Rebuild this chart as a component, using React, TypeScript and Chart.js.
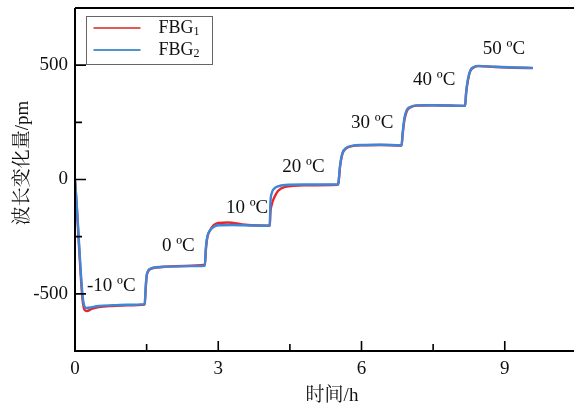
import React, { useEffect, useRef } from "react";
import { Chart, registerables } from "chart.js";

Chart.register(...registerables);

// FBG1 (red) time [h] and wavelength shift [pm]
const timeFBG1 = [0, 0.04, 0.08, 0.12, 0.16, 0.2, 0.25, 0.35, 0.5, 0.8, 1.1, 1.46, 1.48, 1.5, 1.53, 1.58, 1.7, 1.9, 2.3, 2.72, 2.74, 2.77, 2.82, 2.9, 3.0, 3.2, 3.5, 3.7, 4.08, 4.09, 4.12, 4.17, 4.25, 4.4, 4.8, 5.5, 5.52, 5.55, 5.6, 5.68, 5.8, 6.0, 6.4, 6.84, 6.86, 6.9, 6.95, 7.03, 7.15, 7.5, 8.17, 8.19, 8.23, 8.28, 8.35, 8.45, 8.8, 9.2, 9.59];
const shiftFBG1 = [0, -130, -280, -420, -530, -570, -575, -566, -558, -553, -550, -547, -480, -425, -402, -391, -385, -381, -378, -373, -310, -255, -225, -200, -190, -188, -196, -200, -202, -150, -110, -80, -50, -32, -25, -23, -12, 55, 112, 136, 146, 150, 151, 149, 195, 262, 300, 316, 323, 325, 322, 375, 435, 475, 490, 496, 492, 489, 487];

// FBG2 (blue)
const timeFBG2 = [0, 0.04, 0.08, 0.12, 0.16, 0.2, 0.25, 0.35, 0.5, 0.8, 1.1, 1.46, 1.48, 1.5, 1.53, 1.58, 1.7, 1.9, 2.3, 2.72, 2.74, 2.77, 2.82, 2.9, 3.0, 3.3, 3.7, 4.08, 4.09, 4.12, 4.17, 4.25, 4.4, 4.8, 5.5, 5.52, 5.55, 5.6, 5.68, 5.8, 6.0, 6.4, 6.84, 6.86, 6.9, 6.95, 7.03, 7.15, 7.5, 8.17, 8.19, 8.23, 8.28, 8.35, 8.45, 8.8, 9.2, 9.59];
const shiftFBG2 = [0, -120, -260, -400, -510, -555, -562, -558, -553, -550, -548, -545, -470, -420, -400, -390, -384, -381, -379, -377, -300, -250, -225, -208, -200, -199, -201, -202, -110, -60, -40, -30, -24, -22, -22, -10, 60, 115, 138, 147, 151, 152, 150, 200, 270, 305, 318, 324, 325, 322, 380, 440, 478, 492, 497, 493, 490, 488];

// temperature annotations (label, time, shift at label anchor)
const tempLabels = ["-10 ºC", "0 ºC", "10 ºC", "20 ºC", "30 ºC", "40 ºC", "50 ºC"];
const tempLabelTime = [0.25, 1.82, 3.16, 4.34, 5.78, 7.08, 8.54];
const tempLabelShift = [-467, -289, -124, 54, 246, 433, 572];

const xTicks = [0, 3, 6, 9];
const xMinorTicks = [1.5, 4.5, 7.5];
const yTicks = [-500, 0, 500];
const yMinorTicks = [-250, 250];

const seriesNames = ["FBG", "FBG"];
const seriesSubs = ["1", "2"];
const seriesColors = ["#e8262e", "#3f86d6"];
const legendColors = ["#e05a5a", "#4f93cf"];

const SERIF = "'Liberation Serif', 'Times New Roman', serif";
const CJK = "'Liberation Serif', 'Noto Serif CJK SC', 'Noto Sans CJK SC', serif";

const overlayPlugin = {
  id: "overlay",
  afterDraw(chart: any) {
    const { ctx, chartArea: a, scales } = chart;
    const xs = scales.x;
    const ys = scales.y;
    ctx.save();
    // axes
    ctx.strokeStyle = "#000";
    ctx.lineWidth = 2;
    ctx.beginPath();
    ctx.moveTo(a.left, a.top);
    ctx.lineTo(a.left, a.bottom);
    ctx.lineTo(a.right, a.bottom);
    ctx.moveTo(a.left, a.top);
    ctx.lineTo(a.right, a.top);
    ctx.stroke();
    // ticks (inward)
    ctx.lineWidth = 1.6;
    ctx.beginPath();
    xTicks.forEach((v) => {
      const px = xs.getPixelForValue(v);
      ctx.moveTo(px, a.bottom);
      ctx.lineTo(px, a.bottom - 10);
    });
    xMinorTicks.forEach((v) => {
      const px = xs.getPixelForValue(v);
      ctx.moveTo(px, a.bottom);
      ctx.lineTo(px, a.bottom - 7);
    });
    yTicks.forEach((v) => {
      const py = ys.getPixelForValue(v);
      ctx.moveTo(a.left, py);
      ctx.lineTo(a.left + 11, py);
    });
    yMinorTicks.forEach((v) => {
      const py = ys.getPixelForValue(v);
      ctx.moveTo(a.left, py);
      ctx.lineTo(a.left + 7, py);
    });
    ctx.stroke();

    // temperature labels
    ctx.fillStyle = "#111";
    ctx.font = `19px ${SERIF}`;
    ctx.textAlign = "left";
    ctx.textBaseline = "middle";
    tempLabels.forEach((t, i) => {
      ctx.fillText(t, xs.getPixelForValue(tempLabelTime[i]), ys.getPixelForValue(tempLabelShift[i]));
    });

    // axis titles
    ctx.font = `19px ${CJK}`;
    ctx.textAlign = "center";
    ctx.fillText("时间/h", a.left + 257, a.bottom + 45);
    ctx.save();
    ctx.translate(a.left - 52, a.top + 155);
    ctx.rotate(-Math.PI / 2);
    ctx.fillText("波长变化量/pm", 0, 0);
    ctx.restore();

    // legend
    const lx = a.left + 11.5;
    const ly = a.top + 8.5;
    ctx.fillStyle = "#fff";
    ctx.fillRect(lx, ly, 126, 48);
    ctx.strokeStyle = "#666";
    ctx.lineWidth = 1;
    ctx.strokeRect(lx, ly, 126, 48);
    seriesNames.forEach((n, i) => {
      const cy = ly + 11.5 + i * 22;
      ctx.strokeStyle = legendColors[i];
      ctx.lineWidth = 2;
      ctx.beginPath();
      ctx.moveTo(lx + 7, cy);
      ctx.lineTo(lx + 54, cy);
      ctx.stroke();
      ctx.fillStyle = "#111";
      ctx.textAlign = "left";
      ctx.textBaseline = "middle";
      ctx.font = `18px ${SERIF}`;
      ctx.fillText(n, lx + 72, cy);
      const w = ctx.measureText(n).width;
      ctx.font = `12px ${SERIF}`;
      ctx.fillText(seriesSubs[i], lx + 72 + w, cy + 4);
    });
    ctx.restore();
  },
};

export default function App() {
  const ref = useRef<HTMLCanvasElement | null>(null);
  useEffect(() => {
    if (!ref.current) return;
    const mk = (ts: number[], vs: number[]) => ts.map((t, i) => ({ x: t, y: vs[i] }));
    const chart = new Chart(ref.current, {
      type: "line",
      data: {
        datasets: [
          {
            label: "FBG1",
            data: mk(timeFBG1, shiftFBG1),
            borderColor: seriesColors[0],
            borderWidth: 2.4,
            pointRadius: 0,
            cubicInterpolationMode: "monotone",
            order: 2,
          },
          {
            label: "FBG2",
            data: mk(timeFBG2, shiftFBG2),
            borderColor: seriesColors[1],
            borderWidth: 2.4,
            pointRadius: 0,
            cubicInterpolationMode: "monotone",
            order: 1,
          },
        ],
      },
      options: {
        responsive: false,
        animation: false,
        layout: { padding: { top: 8, left: 0, right: 0, bottom: 0 } },
        plugins: { legend: { display: false }, tooltip: { enabled: false } },
        scales: {
          x: {
            type: "linear",
            min: 0,
            max: 10.45,
            grid: { display: false, drawTicks: false },
            border: { display: false },
            afterBuildTicks: (s: any) => {
              s.ticks = xTicks.map((v) => ({ value: v }));
            },
            afterFit: (s: any) => {
              s.height = 54;
              s.paddingLeft = 0;
              s.paddingRight = 0;
            },
            ticks: {
              color: "#111",
              font: { family: SERIF, size: 19 },
              padding: 7,
              maxRotation: 0,
            },
          },
          y: {
            type: "linear",
            min: -750,
            max: 750,
            grid: { display: false, drawTicks: false },
            border: { display: false },
            afterBuildTicks: (s: any) => {
              s.ticks = yTicks.map((v) => ({ value: v }));
            },
            afterFit: (s: any) => {
              s.width = 75;
              s.paddingTop = 0;
              s.paddingBottom = 0;
            },
            ticks: {
              color: "#111",
              font: { family: SERIF, size: 19 },
              padding: 7,
            },
          },
        },
      },
      plugins: [overlayPlugin],
    } as any);
    return () => chart.destroy();
  }, []);
  return (
    <div style={{ position: "absolute", left: 0, top: 0, width: 574, height: 405, background: "#fff" }}>
      <canvas ref={ref} width={574} height={405} style={{ display: "block" }} />
    </div>
  );
}
